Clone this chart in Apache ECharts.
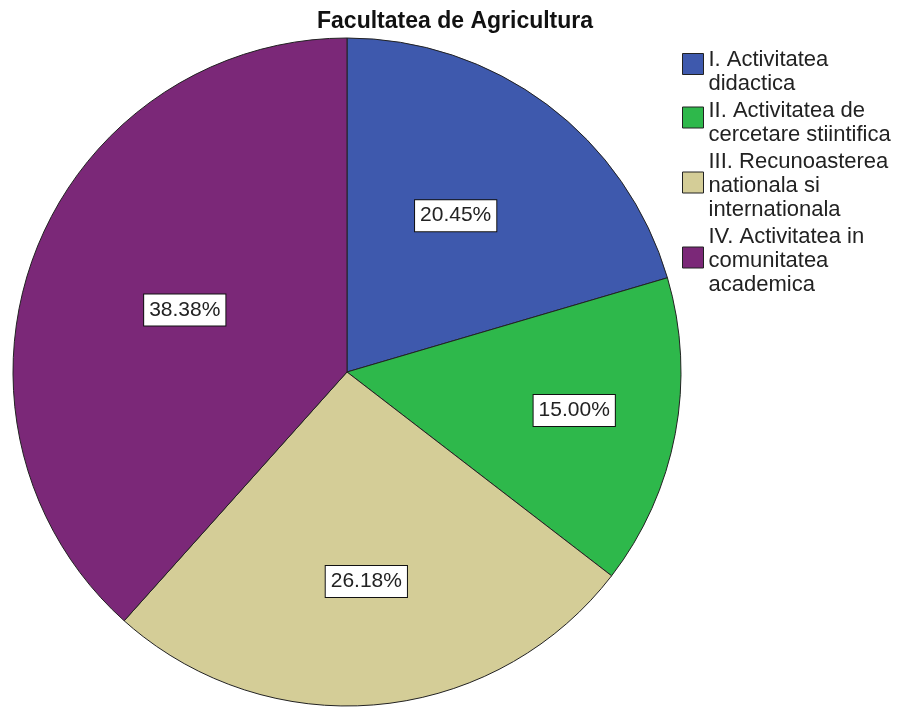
<!DOCTYPE html>
<html>
<head>
<meta charset="utf-8">
<script src="https://cdn.jsdelivr.net/npm/echarts@6/dist/echarts.min.js"></script>
<style>html,body{margin:0;padding:0;background:#fff;}#chart{width:903px;height:709px;}</style>
</head>
<body>
<div id="chart"></div>
<script>
var titleText = 'Facultatea de Agricultura';
var categories = [
  'I. Activitatea\ndidactica',
  'II. Activitatea de\ncercetare stiintifica',
  'III. Recunoasterea\nnationala si\ninternationala',
  'IV. Activitatea in\ncomunitatea\nacademica'
];
var percentages = [20.45, 15.00, 26.18, 38.38];
var colors = ['#3E59AD', '#2EB84B', '#D4CD97', '#7B2878'];
var labelRadiusFrac = [0.57, 0.69, 0.63, 0.52];
var labelAngleAdjust = [-2, -1, 0, 0];
// how far each legend swatch sits above the middle of its text block
var legendIconLift = [7.5, 5, 3, 3];

var CX = 347, CY = 372, R = 334;
var ICON = 21, LIFT_MAX = 7.5, ICON_BOX_H = ICON + 2 * LIFT_MAX;

function iconPath(lift) {
  var t = LIFT_MAX - lift;
  return 'path://M0,0 M' + ICON + ',' + ICON_BOX_H +
    ' M0,' + t + ' L' + ICON + ',' + t + ' L' + ICON + ',' + (t + ICON) + ' L0,' + (t + ICON) + ' Z';
}

var chart = echarts.init(document.getElementById('chart'), null, {renderer: 'canvas'});
chart.setOption({
  animation: false,
  backgroundColor: '#ffffff',
  color: colors,
  title: {
    text: titleText,
    left: 312,
    top: 5,
    textStyle: {fontFamily: 'Liberation Sans, Arial, sans-serif', fontSize: 23, fontWeight: 'bold', color: '#111'}
  },
  legend: {
    orient: 'vertical',
    left: 677,
    top: 42.5,
    itemWidth: ICON,
    itemHeight: ICON_BOX_H,
    itemGap: 3,
    selectedMode: false,
    itemStyle: {borderColor: '#222', borderWidth: 1},
    textStyle: {fontFamily: 'Liberation Sans, Arial, sans-serif', fontSize: 22, color: '#222', lineHeight: 24},
    data: categories.map(function (c, i) {
      return {name: c, icon: iconPath(legendIconLift[i])};
    })
  },
  series: [{
    type: 'pie',
    center: [CX, CY],
    radius: [0, R],
    startAngle: 90,
    clockwise: true,
    avoidLabelOverlap: false,
    itemStyle: {borderColor: '#222', borderWidth: 1},
    label: {
      show: true,
      position: 'inside',
      formatter: function (p) { return p.value.toFixed(2) + '%'; },
      fontFamily: 'Liberation Sans, Arial, sans-serif',
      fontSize: 21,
      color: '#222',
      backgroundColor: '#fff',
      borderColor: '#111',
      borderWidth: 1,
      padding: [4, 5, 3, 5],
      lineHeight: 24
    },
    labelLine: {show: false},
    emphasis: {disabled: true},
    labelLayout: function (params) {
      var r = params.labelRect;
      var lx = r.x + r.width / 2, ly = r.y + r.height / 2;
      var a = Math.atan2(ly - CY, lx - CX) + labelAngleAdjust[params.dataIndex] * Math.PI / 180;
      var f = labelRadiusFrac[params.dataIndex] * R;
      return {x: CX + Math.cos(a) * f, y: CY + Math.sin(a) * f};
    },
    data: categories.map(function (c, i) { return {name: c, value: percentages[i]}; })
  }]
});
</script>
</body>
</html>
